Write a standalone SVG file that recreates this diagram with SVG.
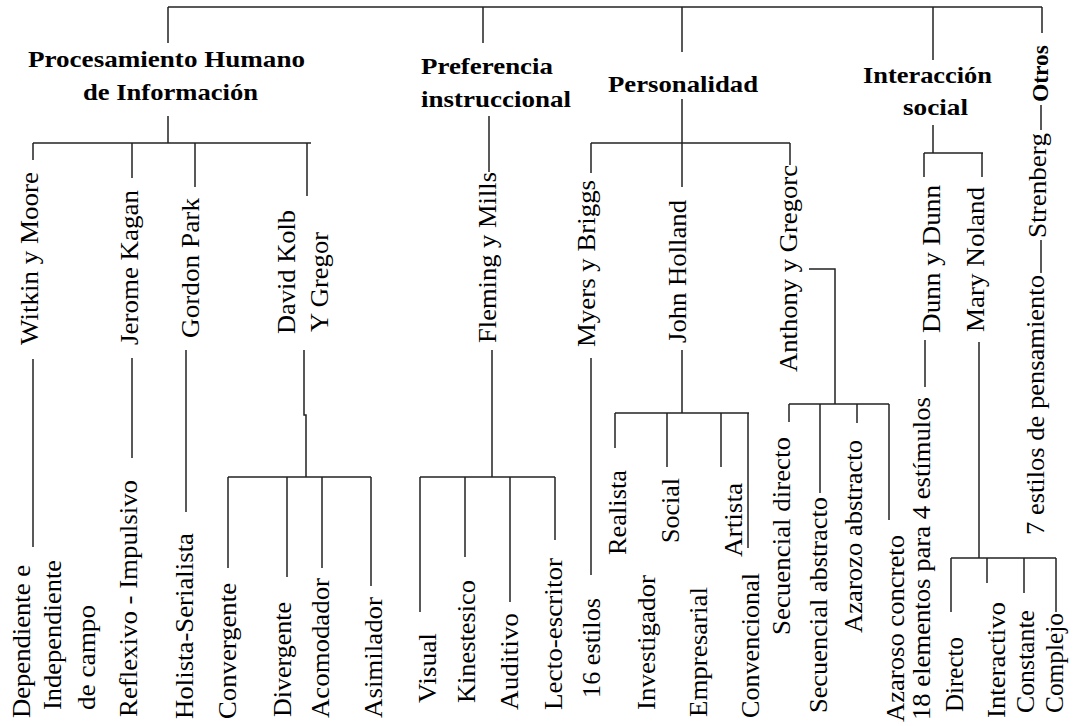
<svg xmlns="http://www.w3.org/2000/svg" width="1073" height="726" viewBox="0 0 1073 726" font-family="Liberation Serif, DejaVu Serif, Tinos, Times New Roman, serif">
<style>
.t{font-size:26px;fill:#000}
.b{font-size:24px;font-weight:bold;fill:#000}
.c line,.c polyline{stroke:#222;stroke-width:1.5;fill:none}
</style>
<rect width="1073" height="726" fill="#fff"/>
<g id="connectors" class="c">
<line x1="168" y1="7" x2="1042" y2="7"/>
<line x1="168" y1="7" x2="168" y2="43"/>
<line x1="483" y1="7" x2="483" y2="43"/>
<line x1="682" y1="7" x2="682" y2="52"/>
<line x1="933" y1="7" x2="933" y2="60"/>
<line x1="1042" y1="7" x2="1042" y2="33"/>
<line x1="168" y1="116" x2="168" y2="143"/>
<line x1="33" y1="143" x2="311" y2="143"/>
<line x1="33" y1="143" x2="33" y2="160"/>
<line x1="132" y1="143" x2="132" y2="178"/>
<line x1="195" y1="143" x2="195" y2="187"/>
<line x1="307" y1="143" x2="307" y2="196"/>
<line x1="33" y1="359" x2="33" y2="547"/>
<line x1="132" y1="358" x2="132" y2="458"/>
<line x1="186" y1="350" x2="186" y2="512"/>
<polyline points="304,350 304,415 306,415 306,477"/>
<line x1="228" y1="477" x2="371" y2="477"/>
<line x1="228" y1="477" x2="228" y2="568"/>
<line x1="287" y1="477" x2="287" y2="577"/>
<line x1="322" y1="477" x2="322" y2="568"/>
<line x1="371" y1="477" x2="371" y2="586"/>
<line x1="489" y1="116" x2="489" y2="172"/>
<line x1="492" y1="350" x2="492" y2="477"/>
<line x1="420" y1="477" x2="555" y2="477"/>
<line x1="420" y1="477" x2="420" y2="612"/>
<line x1="465" y1="477" x2="465" y2="557"/>
<line x1="510" y1="477" x2="510" y2="602"/>
<line x1="555" y1="477" x2="555" y2="540"/>
<line x1="682" y1="99" x2="682" y2="187"/>
<line x1="591" y1="143" x2="790" y2="143"/>
<line x1="591" y1="143" x2="591" y2="173"/>
<line x1="790" y1="143" x2="790" y2="165"/>
<line x1="591" y1="358" x2="591" y2="575"/>
<line x1="682" y1="350" x2="682" y2="413"/>
<line x1="615" y1="413" x2="749" y2="413"/>
<line x1="615" y1="413" x2="615" y2="448"/>
<line x1="667" y1="413" x2="667" y2="467"/>
<line x1="721" y1="413" x2="721" y2="467"/>
<line x1="748" y1="413" x2="748" y2="548"/>
<polyline points="809,269 835,269 835,404"/>
<line x1="789" y1="404" x2="889" y2="404"/>
<line x1="789" y1="404" x2="789" y2="422"/>
<line x1="820" y1="404" x2="820" y2="493"/>
<line x1="857" y1="404" x2="857" y2="423"/>
<line x1="889" y1="404" x2="889" y2="520"/>
<line x1="933" y1="125" x2="933" y2="153"/>
<line x1="924" y1="153" x2="983" y2="153"/>
<line x1="924" y1="153" x2="924" y2="177"/>
<line x1="982" y1="153" x2="982" y2="177"/>
<line x1="925" y1="340" x2="925" y2="387"/>
<line x1="979" y1="342" x2="979" y2="558"/>
<line x1="951" y1="558" x2="1056" y2="558"/>
<line x1="951" y1="558" x2="951" y2="612"/>
<line x1="987" y1="558" x2="987" y2="583"/>
<line x1="1024" y1="558" x2="1024" y2="593"/>
<line x1="1056" y1="558" x2="1056" y2="612"/>
<line x1="1041" y1="105" x2="1041" y2="130"/>
<line x1="1041" y1="240" x2="1041" y2="273"/>
</g>
<g id="procesamiento">
<text class="b" x="28" y="67" textLength="277" lengthAdjust="spacingAndGlyphs">Procesamiento Humano</text>
<text class="b" x="83" y="100" textLength="175" lengthAdjust="spacingAndGlyphs">de Información</text>
</g>
<g id="witkin"><text class="t" transform="translate(38,345) rotate(-90)" textLength="173" lengthAdjust="spacingAndGlyphs">Witkin y Moore</text></g>
<g id="dependiente">
<text class="t" transform="translate(30,718) rotate(-90)" textLength="153" lengthAdjust="spacingAndGlyphs">Dependiente e</text>
<text class="t" transform="translate(61,710) rotate(-90)" textLength="150" lengthAdjust="spacingAndGlyphs">Independiente</text>
<text class="t" transform="translate(95,710) rotate(-90)" textLength="105" lengthAdjust="spacingAndGlyphs">de campo</text>
</g>
<g id="kagan"><text class="t" transform="translate(138,345) rotate(-90)" textLength="155" lengthAdjust="spacingAndGlyphs">Jerome Kagan</text></g>
<g id="reflexivo"><text class="t" transform="translate(137,717) rotate(-90)" textLength="237" lengthAdjust="spacingAndGlyphs">Reflexivo - Impulsivo</text></g>
<g id="park"><text class="t" transform="translate(199,338) rotate(-90)" textLength="140" lengthAdjust="spacingAndGlyphs">Gordon Park</text></g>
<g id="holista"><text class="t" transform="translate(193,719) rotate(-90)" textLength="186" lengthAdjust="spacingAndGlyphs">Holista-Serialista</text></g>
<g id="kolb">
<text class="t" transform="translate(295,334) rotate(-90)" textLength="124" lengthAdjust="spacingAndGlyphs">David Kolb</text>
<text class="t" transform="translate(328,332) rotate(-90)" textLength="100" lengthAdjust="spacingAndGlyphs">Y Gregor</text>
</g>
<g id="convergente"><text class="t" transform="translate(236,719) rotate(-90)" textLength="136" lengthAdjust="spacingAndGlyphs">Convergente</text></g>
<g id="divergente"><text class="t" transform="translate(291,717) rotate(-90)" textLength="115" lengthAdjust="spacingAndGlyphs">Divergente</text></g>
<g id="acomodador"><text class="t" transform="translate(329,718) rotate(-90)" textLength="140" lengthAdjust="spacingAndGlyphs">Acomodador</text></g>
<g id="asimilador"><text class="t" transform="translate(382,718) rotate(-90)" textLength="121" lengthAdjust="spacingAndGlyphs">Asimilador</text></g>
<g id="preferencia">
<text class="b" x="421" y="74" textLength="132" lengthAdjust="spacingAndGlyphs">Preferencia</text>
<text class="b" x="421" y="107" textLength="150" lengthAdjust="spacingAndGlyphs">instruccional</text>
</g>
<g id="fleming"><text class="t" transform="translate(496,343) rotate(-90)" textLength="171" lengthAdjust="spacingAndGlyphs">Fleming y Mills</text></g>
<g id="visual"><text class="t" transform="translate(436,703) rotate(-90)" textLength="70" lengthAdjust="spacingAndGlyphs">Visual</text></g>
<g id="kinestesico"><text class="t" transform="translate(475,703) rotate(-90)" textLength="123" lengthAdjust="spacingAndGlyphs">Kinestesico</text></g>
<g id="auditivo"><text class="t" transform="translate(518,710) rotate(-90)" textLength="97" lengthAdjust="spacingAndGlyphs">Auditivo</text></g>
<g id="lecto"><text class="t" transform="translate(562,710) rotate(-90)" textLength="152" lengthAdjust="spacingAndGlyphs">Lecto-escritor</text></g>
<g id="personalidad"><text class="b" x="608" y="92" textLength="150" lengthAdjust="spacingAndGlyphs">Personalidad</text></g>
<g id="myers"><text class="t" transform="translate(595,347) rotate(-90)" textLength="167" lengthAdjust="spacingAndGlyphs">Myers y Briggs</text></g>
<g id="estilos16"><text class="t" transform="translate(600,698) rotate(-90)" textLength="100" lengthAdjust="spacingAndGlyphs">16 estilos</text></g>
<g id="holland"><text class="t" transform="translate(686,343) rotate(-90)" textLength="143" lengthAdjust="spacingAndGlyphs">John Holland</text></g>
<g id="realista"><text class="t" transform="translate(626,555) rotate(-90)" textLength="85" lengthAdjust="spacingAndGlyphs">Realista</text></g>
<g id="investigador"><text class="t" transform="translate(655,710) rotate(-90)" textLength="135" lengthAdjust="spacingAndGlyphs">Investigador</text></g>
<g id="social-h"><text class="t" transform="translate(679,543) rotate(-90)" textLength="65" lengthAdjust="spacingAndGlyphs">Social</text></g>
<g id="empresarial"><text class="t" transform="translate(707,717) rotate(-90)" textLength="130" lengthAdjust="spacingAndGlyphs">Empresarial</text></g>
<g id="artista"><text class="t" transform="translate(742,557) rotate(-90)" textLength="74" lengthAdjust="spacingAndGlyphs">Artista</text></g>
<g id="convencional"><text class="t" transform="translate(759,718) rotate(-90)" textLength="145" lengthAdjust="spacingAndGlyphs">Convencional</text></g>
<g id="anthony"><text class="t" transform="translate(797,372) rotate(-90)" textLength="207" lengthAdjust="spacingAndGlyphs">Anthony y Gregorc</text></g>
<g id="sec-directo"><text class="t" transform="translate(790,635) rotate(-90)" textLength="198" lengthAdjust="spacingAndGlyphs">Secuencial directo</text></g>
<g id="sec-abstracto"><text class="t" transform="translate(827,713) rotate(-90)" textLength="216" lengthAdjust="spacingAndGlyphs">Secuencial abstracto</text></g>
<g id="az-abstracto"><text class="t" transform="translate(862,633) rotate(-90)" textLength="193" lengthAdjust="spacingAndGlyphs">Azarozo abstracto</text></g>
<g id="az-concreto"><text class="t" transform="translate(904,722) rotate(-90)" textLength="187" lengthAdjust="spacingAndGlyphs">Azaroso concreto</text></g>
<g id="interaccion">
<text class="b" x="863" y="83" textLength="129" lengthAdjust="spacingAndGlyphs">Interacción</text>
<text class="b" x="903" y="115" textLength="65" lengthAdjust="spacingAndGlyphs">social</text>
</g>
<g id="dunn"><text class="t" transform="translate(940,333) rotate(-90)" textLength="148" lengthAdjust="spacingAndGlyphs">Dunn y Dunn</text></g>
<g id="elementos"><text class="t" transform="translate(930,720) rotate(-90)" textLength="323" lengthAdjust="spacingAndGlyphs">18 elementos para 4 estímulos</text></g>
<g id="noland"><text class="t" transform="translate(984,332) rotate(-90)" textLength="145" lengthAdjust="spacingAndGlyphs">Mary Noland</text></g>
<g id="directo"><text class="t" transform="translate(963,712) rotate(-90)" textLength="75" lengthAdjust="spacingAndGlyphs">Directo</text></g>
<g id="interactivo"><text class="t" transform="translate(1005,718) rotate(-90)" textLength="116" lengthAdjust="spacingAndGlyphs">Interactivo</text></g>
<g id="constante"><text class="t" transform="translate(1034,713) rotate(-90)" textLength="103" lengthAdjust="spacingAndGlyphs">Constante</text></g>
<g id="complejo"><text class="t" transform="translate(1063,713) rotate(-90)" textLength="100" lengthAdjust="spacingAndGlyphs">Complejo</text></g>
<g id="otros"><text class="b" transform="translate(1048,102) rotate(-90)" textLength="57" lengthAdjust="spacingAndGlyphs">Otros</text></g>
<g id="strenberg"><text class="t" transform="translate(1046,238) rotate(-90)" textLength="105" lengthAdjust="spacingAndGlyphs">Strenberg</text></g>
<g id="pensamiento"><text class="t" transform="translate(1044,535) rotate(-90)" textLength="260" lengthAdjust="spacingAndGlyphs">7 estilos de pensamiento</text></g>
</svg>
